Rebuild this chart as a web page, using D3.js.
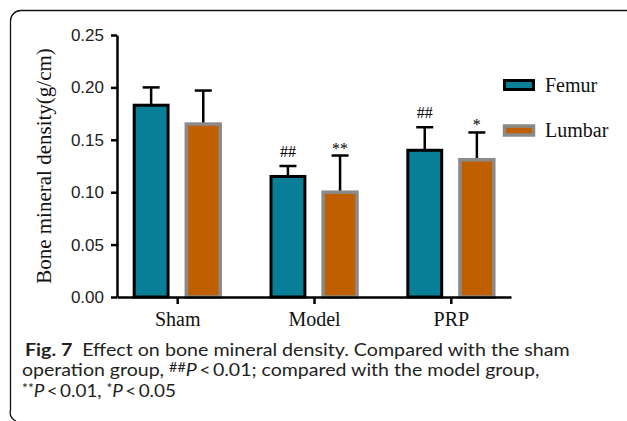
<!DOCTYPE html>
<html>
<head>
<meta charset="utf-8">
<script src="https://cdn.jsdelivr.net/npm/d3@7"></script>
<style>
  body { margin: 0; background: #fff; }
  svg { display: block; }
</style>
</head>
<body>
<div id="chart"></div>
<script>
const W = 627, H = 421;

// data
const categories = ["Sham", "Model", "PRP"];
const series = ["Femur", "Lumbar"];
const femurMean = [0.183, 0.115, 0.140];
const femurErr = [0.017, 0.010, 0.022];
const lumbarMean = [0.165, 0.100, 0.131];
const lumbarErr = [0.032, 0.035, 0.026];
const femurMarks = ["", "##", "##"];
const lumbarMarks = ["", "**", "*"];
const yTicks = [0, 0.05, 0.10, 0.15, 0.20, 0.25];

const fills = {Femur: "#087e97", Lumbar: "#c05f00"};
const strokes = {Femur: "#000", Lumbar: "#8a8a8a"};
const strokeW = {Femur: 3, Lumbar: 3.5};

const rows = [];
categories.forEach((c, i) => {
  rows.push({cat: c, s: "Femur", v: femurMean[i], e: femurErr[i], mark: femurMarks[i]});
  rows.push({cat: c, s: "Lumbar", v: lumbarMean[i], e: lumbarErr[i], mark: lumbarMarks[i]});
});

const svg = d3.select("#chart").append("svg")
  .attr("width", W).attr("height", H);

// rounded frame
svg.append("path")
  .attr("d", "M627,10.5 H21 A10.5,10.5 0 0 0 10.5,21 V410 A9,9 0 0 0 16,421")
  .attr("fill", "none").attr("stroke", "#111").attr("stroke-width", 1.3);

const x = d3.scalePoint().domain(categories).range([117, 511]).padding(0.44);
const x1 = d3.scaleBand().domain(series).range([-43, 43]).paddingInner(0.35);
const y = d3.scaleLinear().domain([0, 0.25]).range([297, 35]);

// error bars (behind bars)
const eb = svg.append("g").attr("stroke", "#000").attr("stroke-width", 2.5);
rows.forEach(d => {
  const cx = x(d.cat) + x1(d.s) + x1.bandwidth() / 2;
  eb.append("line").attr("x1", cx).attr("x2", cx)
    .attr("y1", y(d.v)).attr("y2", y(d.v + d.e));
  eb.append("line").attr("x1", cx - 8.5).attr("x2", cx + 8.5)
    .attr("y1", y(d.v + d.e)).attr("y2", y(d.v + d.e));
});

svg.append("g").selectAll("rect").data(rows).join("rect")
  .attr("x", d => x(d.cat) + x1(d.s))
  .attr("y", d => y(d.v))
  .attr("width", x1.bandwidth())
  .attr("height", d => y(0) - y(d.v))
  .attr("fill", d => fills[d.s])
  .attr("stroke", d => strokes[d.s])
  .attr("stroke-width", d => strokeW[d.s]);

// significance marks
svg.append("g").selectAll("text").data(rows.filter(d => d.mark)).join("text")
  .attr("x", d => x(d.cat) + x1(d.s) + x1.bandwidth() / 2)
  .attr("y", d => y(d.v + d.e) - (d.mark[0] === "#" ? 9 : 2))
  .attr("text-anchor", "middle")
  .attr("font-family", "Liberation Serif, serif")
  .attr("font-size", 16)
  .text(d => d.mark);

// axes
const yAxis = svg.append("g").attr("transform", "translate(117,0)")
  .call(d3.axisLeft(y).tickValues(yTicks).tickFormat(d3.format(".2f")).tickSize(6).tickSizeOuter(0));
const xAxis = svg.append("g").attr("transform", "translate(0,297)")
  .call(d3.axisBottom(x).tickSize(7).tickSizeOuter(0));

[yAxis, xAxis].forEach(g => {
  g.select(".domain").attr("stroke", "#000").attr("stroke-width", 2.5);
  g.selectAll(".tick line").attr("stroke", "#000").attr("stroke-width", 2.5);
});
yAxis.selectAll(".tick text")
  .attr("font-family", "Liberation Sans, Arial, sans-serif")
  .attr("font-size", 17).attr("fill", "#222").attr("x", -13);
xAxis.selectAll(".tick text")
  .attr("font-family", "Liberation Serif, serif")
  .attr("font-size", 20).attr("fill", "#111").attr("y", 15).attr("dy", "0.71em");

svg.append("text")
  .attr("transform", "translate(51,166) rotate(-90)")
  .attr("text-anchor", "middle")
  .attr("font-family", "Liberation Serif, serif")
  .attr("font-size", 21).attr("fill", "#111")
  .text("Bone mineral density(g/cm)");

// legend
const lg = svg.append("g");
series.forEach((s, i) => {
  const ly = 85 + i * 45.5;
  lg.append("rect").attr("x", 504.5).attr("y", ly - 4.5).attr("width", 29).attr("height", 9)
    .attr("fill", fills[s]).attr("stroke", strokes[s]).attr("stroke-width", strokeW[s]);
  lg.append("text").attr("x", 545).attr("y", ly + 6.5)
    .attr("font-family", "Liberation Serif, serif").attr("font-size", 20).attr("fill", "#111")
    .text(s);
});

// caption: each line squeezed horizontally to the width seen in the figure
const capFont = "Lato, Open Sans, sans-serif";
const cap = svg.append("g").attr("font-family", capFont).attr("font-size", 17).attr("fill", "#231f20");

function capLine(x0, y0, width) {
  const g = cap.append("g").attr("transform", `translate(${x0},${y0})`);
  const t = g.append("text").attr("x", 0).attr("y", 0);
  return {t, fit: () => {
    const k = width / t.node().getComputedTextLength();
    g.attr("transform", `translate(${x0},${y0}) scale(${k},1)`);
  }};
}
function sup(t, s) {
  t.append("tspan").attr("font-size", 12.5).attr("baseline-shift", "30%").text(s);
}

const l1 = capLine(25, 355.5, 545);
l1.t.append("tspan").attr("font-weight", "bold").text("Fig. 7");
l1.t.append("tspan").text("\u2002Effect on bone mineral density. Compared with the sham");
l1.fit();

const l2 = capLine(22, 376, 518);
l2.t.append("tspan").text("operation group, ");
sup(l2.t, "##");
l2.t.append("tspan").attr("font-style", "italic").text("P");
l2.t.append("tspan").text("\u2009<\u20090.01; compared with the model group,");
l2.fit();

const l3 = capLine(22, 396.5, 154);
sup(l3.t, "**");
l3.t.append("tspan").attr("font-style", "italic").text("P");
l3.t.append("tspan").text("\u2009<\u20090.01, ");
sup(l3.t, "*");
l3.t.append("tspan").attr("font-style", "italic").text("P");
l3.t.append("tspan").text("\u2009<\u20090.05");
l3.fit();
</script>
</body>
</html>
